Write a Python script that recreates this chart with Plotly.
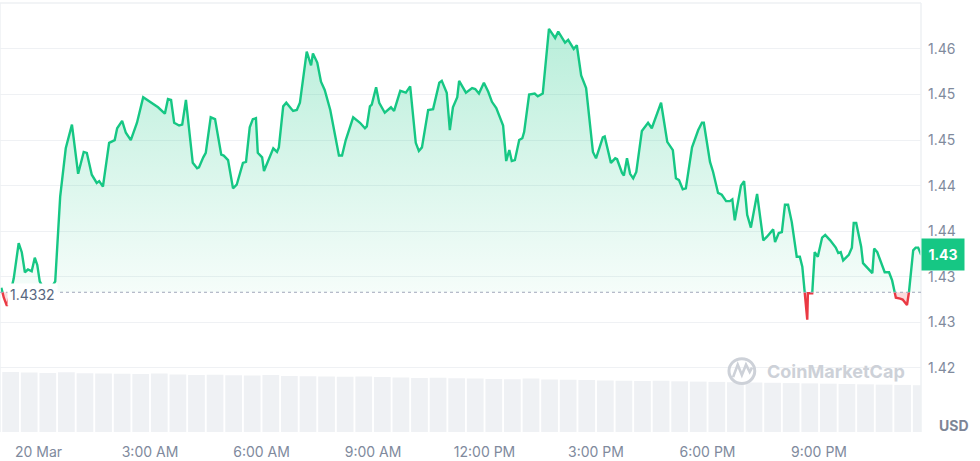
import plotly.graph_objects as go
import pandas as pd

# ---------------- data ----------------
times_mar19 = ["23:00", "23:04", "23:09", "23:16", "23:20", "23:28", "23:33", "23:38",
               "23:43", "23:49", "23:54", "23:58"]
times_mar20 = [
    "00:02", "00:09", "00:19", "00:27", "00:35", "00:44", "00:54", "01:04", "01:13", "01:18",
    "01:26", "01:34", "01:38", "01:44", "01:54", "02:03", "02:07", "02:15", "02:21", "02:29",
    "02:39", "02:49", "02:57", "03:05", "03:13", "03:24", "03:29", "03:34", "03:39", "03:47",
    "03:52", "03:58", "04:09", "04:16", "04:19", "04:26", "04:30", "04:38", "04:45", "04:55",
    "04:59", "05:06", "05:14", "05:20", "05:30", "05:35", "05:41", "05:46", "05:51", "05:54",
    "06:01", "06:04", "06:12", "06:19", "06:25", "06:28", "06:35", "06:40", "06:46", "06:51",
    "06:57", "07:02", "07:13", "07:20", "07:23", "07:30", "07:36", "07:42", "07:51", "07:59",
    "08:05", "08:10", "08:16", "08:28", "08:39", "08:47", "08:50", "08:55", "08:58", "09:05",
    "09:10", "09:19", "09:29", "09:34", "09:44", "09:53", "10:00", "10:09", "10:14", "10:19",
    "10:29", "10:37", "10:47", "10:51", "10:56", "10:59", "11:04", "11:09", "11:16", "11:19",
    "11:30", "11:40", "11:45", "11:51", "11:59", "12:06", "12:12", "12:19", "12:30", "12:35",
    "12:40", "12:44", "12:49", "12:56", "13:01", "13:04", "13:12", "13:21", "13:26", "13:34",
    "13:44", "13:54", "13:59", "14:10", "14:15", "14:24", "14:29", "14:36", "14:44", "14:55",
    "15:00", "15:11", "15:14", "15:24", "15:31", "15:34", "15:42", "15:45", "15:50", "15:55",
    "16:00", "16:05", "16:14", "16:24", "16:30", "16:45", "16:55", "17:04", "17:09", "17:14",
    "17:20", "17:25", "17:35", "17:45", "17:51", "17:54", "18:04", "18:09", "18:17", "18:23",
    "18:30", "18:36", "18:40", "18:44", "18:54", "18:59", "19:04", "19:10", "19:20", "19:30",
    "19:36", "19:46", "19:49", "19:55", "20:00", "20:05", "20:10", "20:16", "20:24", "20:29",
    "20:33", "20:41", "20:42", "20:49", "20:53", "20:58", "21:05", "21:10", "21:18", "21:27",
    "21:31", "21:35", "21:39", "21:48", "21:53", "21:56", "22:00", "22:08", "22:11", "22:26",
    "22:29", "22:34", "22:42", "22:46", "22:53", "22:58", "23:04", "23:11", "23:15", "23:22",
    "23:25", "23:32", "23:36", "23:40", "23:45"]
prices = [
    1.4337, 1.4326, 1.4317, 1.4335, 1.4347, 1.4386, 1.4376, 1.4354, 1.4357, 1.4355, 1.4370, 1.4362,
    1.4344, 1.4335, 1.4335, 1.4344, 1.4437, 1.4490, 1.4516, 1.4462, 1.4486, 1.4485,
    1.4461, 1.4452, 1.4454, 1.4448, 1.4496, 1.4499, 1.4512, 1.4520, 1.4507, 1.4499,
    1.4518, 1.4546, 1.4542, 1.4538, 1.4535, 1.4528, 1.4544, 1.4543, 1.4518, 1.4515,
    1.4516, 1.4543, 1.4474, 1.4468, 1.4469, 1.4480, 1.4485, 1.4524, 1.4522, 1.4483,
    1.4482, 1.4477, 1.4446, 1.4450, 1.4474, 1.4475, 1.4513, 1.4522, 1.4523, 1.4485,
    1.4480, 1.4465, 1.4478, 1.4490, 1.4486, 1.4491, 1.4536, 1.4540, 1.4535, 1.4531,
    1.4532, 1.4540, 1.4596, 1.4581, 1.4594, 1.4584, 1.4563, 1.4554, 1.4532, 1.4505,
    1.4482, 1.4482, 1.4499, 1.4524, 1.4518, 1.4512, 1.4514, 1.4536, 1.4538, 1.4557,
    1.4540, 1.4529, 1.4535, 1.4531, 1.4553, 1.4551, 1.4558, 1.4496, 1.4487, 1.4491,
    1.4532, 1.4533, 1.4562, 1.4564, 1.4557, 1.4551, 1.4510, 1.4535, 1.4546, 1.4564,
    1.4551, 1.4556, 1.4555, 1.4550, 1.4562, 1.4552, 1.4541, 1.4534, 1.4515, 1.4476,
    1.4488, 1.4476, 1.4477, 1.4499, 1.4501, 1.4508, 1.4549, 1.4550, 1.4547, 1.4550,
    1.4621, 1.4611, 1.4618, 1.4606, 1.4609, 1.4599, 1.4603, 1.4570, 1.4556, 1.4486,
    1.4479, 1.4502, 1.4503, 1.4474, 1.4479, 1.4478, 1.4463, 1.4460, 1.4479, 1.4462,
    1.4457, 1.4464, 1.4509, 1.4518, 1.4512, 1.4540, 1.4497, 1.4488, 1.4457, 1.4455,
    1.4445, 1.4446, 1.4491, 1.4510, 1.4518, 1.4518, 1.4475, 1.4464, 1.4441, 1.4439,
    1.4432, 1.4432, 1.4434, 1.4411, 1.4449, 1.4454, 1.4417, 1.4403, 1.4440, 1.4389,
    1.4393, 1.4401, 1.4387, 1.4397, 1.4398, 1.4428, 1.4428, 1.4409, 1.4371, 1.4371,
    1.4360, 1.4302, 1.4331, 1.4331, 1.4376, 1.4371, 1.4392, 1.4395, 1.4389, 1.4381,
    1.4375, 1.4376, 1.4367, 1.4373, 1.4381, 1.4408, 1.4408, 1.4382, 1.4364, 1.4353,
    1.4380, 1.4376, 1.4360, 1.4354, 1.4354, 1.4345, 1.4326, 1.4325, 1.4324, 1.4318,
    1.4331, 1.4378, 1.4381, 1.4381, 1.4373]
baseline_price = 1.4332
baseline_label = "1.4332"
last_price_label = "1.43"

volume_start = "2025-03-19 23:00"
volume = [2.00, 1.98, 1.97, 1.99, 1.96, 1.95, 1.94, 1.93, 1.95, 1.92,
          1.90, 1.91, 1.89, 1.88, 1.90, 1.87, 1.86, 1.85, 1.84, 1.85,
          1.83, 1.82, 1.80, 1.81, 1.79, 1.78, 1.77, 1.76, 1.78, 1.75,
          1.74, 1.73, 1.72, 1.71, 1.70, 1.71, 1.69, 1.68, 1.67, 1.66,
          1.65, 1.64, 1.63, 1.62, 1.61, 1.60, 1.59, 1.58, 1.57, 1.56]

x_tick_times = ["2025-03-20 00:00", "2025-03-20 03:00", "2025-03-20 06:00", "2025-03-20 09:00",
                "2025-03-20 12:00", "2025-03-20 15:00", "2025-03-20 18:00", "2025-03-20 21:00"]
x_tick_labels = ["20 Mar", "3:00 AM", "6:00 AM", "9:00 AM", "12:00 PM", "3:00 PM", "6:00 PM", "9:00 PM"]
y_tick_values = [1.4249, 1.4299, 1.4349, 1.4399, 1.4449, 1.4499, 1.4549, 1.4599]
y_tick_labels = ["1.42", "1.43", "1.43", "1.44", "1.44", "1.45", "1.45", "1.46"]

# ---------------- styling ----------------
GREEN = "#16c784"
RED = "#ea3943"
GRAY_TXT = "#808a9d"
FONT = "Inter"

t = list(pd.to_datetime(["2025-03-19 " + s for s in times_mar19] +
                        ["2025-03-20 " + s for s in times_mar20]))
base = baseline_price

# insert crossing points with the baseline so green/red split cleanly
xs, ys = [], []
for i, (ti, pi) in enumerate(zip(t, prices)):
    if i > 0:
        p0 = prices[i - 1]
        if (p0 - base) * (pi - base) < 0:
            f = (base - p0) / (pi - p0)
            xs.append(t[i - 1] + (ti - t[i - 1]) * f)
            ys.append(base)
    xs.append(ti)
    ys.append(pi)

up = [max(y, base) for y in ys]
dn = [min(y, base) for y in ys]
green_line = [y if y >= base else None for y in ys]
red_line = [y if y <= base else None for y in ys]
base_line = [base] * len(xs)

vol_x = pd.date_range(volume_start, periods=len(volume), freq="30min") + pd.Timedelta(minutes=15)

fig = go.Figure()

fig.add_trace(go.Bar(x=vol_x, y=volume, yaxis="y2", marker=dict(color="#eff1f4", line=dict(width=0)),
                     hoverinfo="skip", showlegend=False))

fig.add_trace(go.Scatter(x=xs, y=base_line, mode="lines", line=dict(width=0), hoverinfo="skip", showlegend=False))
fig.add_trace(go.Scatter(x=xs, y=up, mode="lines", line=dict(width=0), fill="tonexty",
                         fillgradient=dict(type="vertical", start=base, stop=max(prices),
                                           colorscale=[[0, "rgba(22,199,132,0.04)"], [1, "rgba(22,199,132,0.30)"]]),
                         hoverinfo="skip", showlegend=False))
fig.add_trace(go.Scatter(x=xs, y=base_line, mode="lines", line=dict(width=0), hoverinfo="skip", showlegend=False))
fig.add_trace(go.Scatter(x=xs, y=dn, mode="lines", line=dict(width=0), fill="tonexty",
                         fillcolor="rgba(234,57,67,0.18)", hoverinfo="skip", showlegend=False))

fig.add_trace(go.Scatter(x=xs, y=green_line, mode="lines", line=dict(color=GREEN, width=2.4),
                         connectgaps=False, showlegend=False))
fig.add_trace(go.Scatter(x=xs, y=red_line, mode="lines", line=dict(color=RED, width=2.4),
                         connectgaps=False, showlegend=False))

# frame + baseline
frame_col = "#eef0f3"
fig.add_shape(type="line", xref="paper", yref="paper", x0=0, x1=1, y0=1, y1=1, line=dict(color=frame_col, width=1.5))
fig.add_shape(type="line", xref="paper", yref="paper", x0=1, x1=1, y0=0, y1=1, line=dict(color=frame_col, width=1.5))
fig.add_shape(type="line", xref="paper", yref="paper", x0=0, x1=0, y0=0, y1=1, line=dict(color=frame_col, width=1.5))
fig.add_shape(type="line", xref="paper", yref="y", x0=0, x1=1, y0=base, y1=base,
              line=dict(color="#a1a7bb", width=1, dash="dot"))

# watermark logo
wm = "#cdd1d8"
fig.add_shape(type="circle", xref="paper", yref="paper", x0=0.7915, x1=0.8195, y0=0.113, y1=0.171,
              line=dict(color=wm, width=3))
fig.add_shape(type="path", xref="paper", yref="paper",
              path="M 0.7960,0.128 L 0.8010,0.157 L 0.8055,0.133 L 0.8100,0.157 L 0.8140,0.140 L 0.8165,0.150",
              line=dict(color=wm, width=2.6))
fig.add_annotation(xref="paper", yref="paper", x=0.8305, y=0.142, xanchor="left", yanchor="middle",
                   text="<b>CoinMarketCap</b>", showarrow=False, font=dict(family=FONT, size=18, color=wm))

# baseline label
fig.add_annotation(xref="paper", yref="y", x=0, y=base, xanchor="left", yanchor="middle", xshift=7, yshift=-2,
                   text=baseline_label, showarrow=False, bgcolor="white", borderpad=2,
                   font=dict(family=FONT, size=14, color="#58667e"))
# last price badge
fig.add_annotation(xref="paper", yref="y", x=1, y=prices[-1], xanchor="left", yanchor="middle", xshift=0,
                   text="<b>" + last_price_label + "</b>", showarrow=False, bgcolor=GREEN, width=38, height=27,
                   borderpad=2, font=dict(family=FONT, size=14, color="white"))
# currency label
fig.add_annotation(xref="paper", yref="paper", x=1, y=0.016, xanchor="left", yanchor="middle", xshift=16,
                   text="<b>USD</b>", showarrow=False, font=dict(family=FONT, size=14, color="#7d8596"))

fig.update_layout(
    width=980, height=461,
    margin=dict(l=0, r=59, t=3, b=29),
    paper_bgcolor="white", plot_bgcolor="white",
    showlegend=False, hovermode=False, bargap=0.1,
    font=dict(family=FONT, size=14, color=GRAY_TXT),
    xaxis=dict(type="date", range=["2025-03-19 22:57:51", "2025-03-20 23:44:36"],
               tickvals=pd.to_datetime(x_tick_times), ticktext=x_tick_labels,
               showgrid=False, zeroline=False, showline=False, ticks="", ticklabelstandoff=10,
               tickfont=dict(family=FONT, size=14, color=GRAY_TXT)),
    yaxis=dict(side="right", range=[1.41787, 1.46494], tickvals=y_tick_values, ticktext=y_tick_labels,
               showgrid=True, gridcolor="#eff1f4", gridwidth=1, zeroline=False, showline=False, ticks="",
               ticklabelstandoff=6, tickfont=dict(family=FONT, size=14, color=GRAY_TXT)),
    yaxis2=dict(overlaying="y", range=[0, 14.3], visible=False),
)

fig.write_html("out.html", config={"displayModeBar": False},
               post_script="document.body.style.margin='0';document.body.style.overflow='hidden';")
